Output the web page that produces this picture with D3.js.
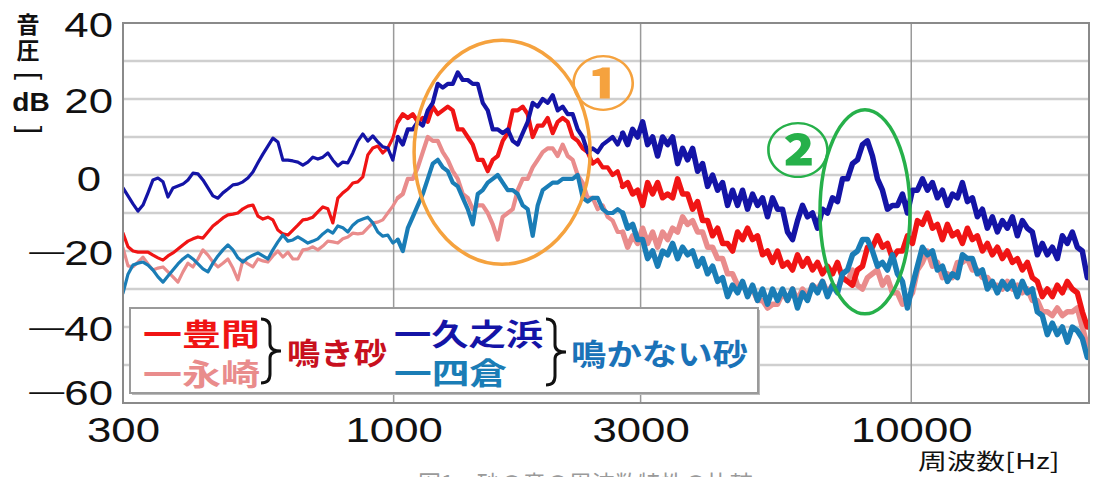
<!DOCTYPE html>
<html>
<head>
<meta charset="utf-8">
<script src="https://cdn.jsdelivr.net/npm/d3@7"></script>
<style>
  body { margin: 0; background: #fff; }
  svg { display: block; }
</style>
</head>
<body>
<svg id="chart" width="1096" height="477"></svg>
<script>
// spectrum bins: log spaced from 300 Hz, one value per bin
const binCount = 194
const binStep = 0.009653 // decades per bin

// 豊間 (red)
const toyoma = [
  -15.3,-18.9,-20.0,-20.3,-20.3,-20.3,-21.1,-21.8,-22.4,-21.3,
  -20.5,-19.5,-18.4,-17.4,-16.8,-16.3,-16.6,-15.0,-13.4,-12.4,
  -11.3,-10.5,-10.3,-10.0,-8.9,-8.2,-7.9,-10.8,-11.6,-11.1,
  -11.8,-14.5,-15.5,-15.8,-14.5,-13.2,-11.8,-11.6,-11.1,-9.7,
  -8.4,-8.9,-12.6,-6.1,-4.7,-3.7,-2.1,-1.8,-0.5,5.3,
  7.1,7.6,5.8,7.1,9.7,
  14,16,15,16,14,15,14,18,16,17,
  18,17,12,12,10,8,4,4,1,4,
  5,9,11,17,17,18,16,10,13,13,
  15,11,14,15,14,10,9,7,6,3,
  4,2,2,0,1,
  -3,-2,-5,-4,-8,-2,-5,-2,-6,-5,
  -6,-1,-5,-5,-9,-7,-12,-12,-16,-14,
  -18,-18,-20,-15,-17,-14,-17,-16,-21,-20,
  -23,-20,-24,-23,-25,-21,-24,-22,-25,-23,
  -26,-24,-26,-23,-27,-28,-29,-25,-24,-19,
  -19,-16,-19,-18,-22,-20,-20,-16,-18,-12,
  -13,-10,-14,-13,-17,-13,-16,-15,-18,-14,
  -17,-16,-20,-18,-21,-19,-22,-20,-23,-22,
  -25,-23,-27,-28,-32,-30,-32,-29,-31,-28,
  -30,-31,-36,-40
]

// 永崎 (pink)
const nagasaki = [
  -19.2,-23.9,-24.2,-22.9,-21.6,-23.4,-25.0,-24.5,-24.2,-25.5,
  -26.8,-28.2,-25.5,-23.2,-24.2,-22.1,-19.7,-21.1,-22.9,-24.2,
  -23.2,-22.1,-24.5,-27.6,-22.4,-23.4,-24.2,-22.1,-22.6,-22.9,
  -21.3,-20.0,-21.6,-20.3,-22.1,-22.1,-19.7,-19.5,-18.9,-19.7,
  -18.7,-17.4,-17.6,-17.9,-16.8,-16.3,-15.3,-15.5,-15.3,-13.9,
  -12.6,-12.4,-11.8,-10.0,-8.2,
  -6,-5,-1,-1,2,6,10,9,9,6,
  4,1,-1,-5,-6,-9,-8,-8,-10,-13,
  -17,-11,-10,-9,-4,-1,-1,2,4,6,
  7,7,5,8,5,4,0,-2,-6,-6,
  -9,-8,-11,-12,-15,
  -15,-19,-16,-18,-14,-18,-15,-19,-15,-17,
  -14,-15,-11,-13,-12,-15,-15,-19,-19,-22,
  -22,-26,-26,-29,-29,-31,-30,-33,-33,-35,
  -34,-34,-31,-33,-30,-33,-30,-32,-29,-30,
  -28,-31,-29,-30,-27,-28,-25,-29,-30,-27,
  -26,-25,-29,-27,-31,-31,-34,-33,-31,-25,
  -23,-20,-24,-23,-27,-26,-27,-23,-23,-22,
  -25,-25,-27,-27,-29,-29,-30,-28,-30,-29,
  -31,-30,-33,-33,-36,-36,-37,-35,-37,-36,
  -36,-35,-40,-45
]

// 久之浜 (dark blue)
const kunohama = [
  -3.4,-5.5,-7.6,-9.5,-7.9,-4.7,-1.3,-0.8,-1.8,-5.8,
  -3.4,-2.9,-2.4,-1.3,0.5,0.3,-1.3,-3.4,-5.5,-6.1,
  -4.7,-3.7,-2.6,-2.4,-1.8,-0.8,0.8,3.2,5.5,7.6,
  9.7,8.7,3.9,3.9,3.7,3.4,2.6,3.4,4.7,4.2,
  4.7,5.8,3.9,2.4,3.4,3.2,5.8,8.9,10.8,8.9,
  10.3,8.7,7.4,7.1,3.9,
  10,8,12,12,14,13,17,19,24,23,
  24,24,27,25,25,24,24,19,17,12,
  12,11,12,9,8,11,14,19,18,20,
  19,21,17,18,16,16,12,10,6,7,
  6,8,9,10,8,
  11,8,12,10,14,8,10,5,10,8,
  10,3,7,4,7,1,3,-3,0,-4,
  -2,-8,-4,-8,-4,-9,-5,-8,-6,-11,
  -6,-9,-9,-15,-17,-12,-8,-11,-10,-14,
  -9,-10,-6,-7,-1,-1,3,4,8,9,
  5,-1,-4,-9,-8,-8,-5,-10,-4,-4,
  -1,-4,-2,-6,-4,-8,-5,-6,-2,-7,
  -6,-11,-9,-14,-11,-15,-12,-14,-11,-16,
  -12,-14,-15,-21,-18,-21,-19,-22,-16,-18,
  -15,-19,-20,-27
]

// 四倉 (teal)
const yotsukura = [
  -31.1,-26.1,-23.7,-23.2,-22.9,-23.7,-25.0,-26.8,-28.2,-26.6,
  -25.0,-23.4,-22.1,-21.1,-22.1,-23.4,-24.7,-25.5,-23.2,-21.3,
  -19.7,-18.4,-19.7,-21.8,-22.9,-21.8,-21.1,-20.5,-21.3,-22.1,
  -19.7,-17.6,-15.8,-17.4,-17.1,-16.3,-17.1,-17.9,-17.4,-16.8,
  -15.5,-14.5,-15.3,-13.4,-13.9,-15.0,-13.2,-12.1,-11.6,-11.1,
  -12.6,-15.0,-16.1,-15.8,-17.9,
  -17,-20,-14,-11,-8,-5,-1,3,4,2,
  1,-2,-3,-6,-9,-13,-5,-4,-2,-1,
  0,-2,-4,-4,-5,-8,-9,-16,-8,-4,
  -3,-2,-2,-1,-1,-1,0,-6,-7,-6,
  -6,-9,-10,-10,-9,
  -10,-14,-13,-17,-17,-22,-20,-24,-20,-21,
  -18,-22,-19,-21,-20,-24,-22,-26,-24,-28,
  -27,-32,-29,-31,-28,-32,-29,-33,-30,-34,
  -30,-33,-30,-33,-30,-35,-31,-33,-29,-31,
  -28,-32,-29,-31,-26,-25,-21,-20,-17,-17,
  -20,-24,-23,-25,-21,-26,-28,-35,-29,-24,
  -19,-21,-20,-25,-24,-28,-26,-27,-21,-22,
  -22,-26,-25,-30,-28,-31,-28,-30,-28,-32,
  -28,-31,-30,-36,-37,-42,-39,-42,-40,-44,
  -40,-41,-43,-48
]

const xTicks = [300, 1000, 3000, 10000]
const yTicks = [40, 20, 0, -20, -40, -60]
const vGrid = [1000, 3000, 10000]

const W = 1096, H = 477
const margin = { top: 23, right: 7, bottom: 74, left: 123 }
const svg = d3.select('#chart')

const x = d3.scaleLog().domain([300, 22050]).range([margin.left, W - margin.right])
const y = d3.scaleLinear().domain([-60, 40]).range([H - margin.bottom, margin.top])
const freqs = d3.range(binCount).map(i => 300 * Math.pow(10, i * binStep))

const num = '"Liberation Sans", Arial, sans-serif'
const jp = '"Noto Sans CJK JP", "Noto Sans", sans-serif'

svg.append('defs').append('clipPath').attr('id', 'plotclip')
	.append('rect')
	.attr('x', margin.left).attr('y', margin.top)
	.attr('width', W - margin.left - margin.right)
	.attr('height', H - margin.top - margin.bottom)

// grid
svg.append('g').selectAll('line').data(d3.range(-50, 40, 10)).join('line')
	.attr('x1', margin.left).attr('x2', W - margin.right)
	.attr('y1', d => y(d)).attr('y2', d => y(d))
	.attr('stroke', '#cfcfcf').attr('stroke-width', 2.5)

svg.append('g').selectAll('line').data(vGrid).join('line')
	.attr('x1', d => x(d)).attr('x2', d => x(d))
	.attr('y1', margin.top).attr('y2', H - margin.bottom)
	.attr('stroke', '#9a9a9a').attr('stroke-width', 1.5)

// spectra: the noisier upper bands are drawn with a heavier pen
const series = [
	{ values: nagasaki, color: '#e98c8c' },
	{ values: toyoma, color: '#f01414' },
	{ values: yotsukura, color: '#1a7db6' },
	{ values: kunohama, color: '#1414a6' }
]
const pens = [
	{ from: 0, to: 56, width: 3.2 },
	{ from: 55, to: 101, width: 4.2 },
	{ from: 100, to: binCount, width: 5.5 }
]
const line = d3.line().x(d => x(d.f)).y(d => y(d.v))
const lines = svg.append('g').attr('clip-path', 'url(#plotclip)')
series.forEach(s => {
	const pts = s.values.map((v, i) => ({ f: freqs[i], v }))
	pens.forEach(p => {
		lines.append('path').datum(pts.slice(p.from, p.to))
			.attr('d', line)
			.attr('fill', 'none')
			.attr('stroke', s.color)
			.attr('stroke-width', p.width)
			.attr('stroke-linejoin', 'round')
			.attr('stroke-linecap', 'round')
	})
})

// frame
svg.append('rect')
	.attr('x', margin.left).attr('y', margin.top)
	.attr('width', W - margin.left - margin.right)
	.attr('height', H - margin.top - margin.bottom)
	.attr('fill', 'none').attr('stroke', '#8a8a8a').attr('stroke-width', 2)

// x axis
const xAxis = svg.append('g')
	.attr('transform', `translate(0, ${H - margin.bottom})`)
	.call(d3.axisBottom(x).tickValues(xTicks).tickSize(0).tickFormat(d => String(d)))
xAxis.select('.domain').remove()
xAxis.selectAll('text')
	.attr('y', 14).attr('dy', '0.71em')
	.attr('transform', 'scale(1.25,1)')
	.style('font-family', num).style('font-size', '35px').style('fill', '#111')

// y axis labels
yTicks.forEach(t => {
	const nudgeY = t === -60 ? -11 : (t === 0 ? 3 : 1)
	const nudgeX = t === 0 ? -12 : 0
	const txt = svg.append('text')
		.attr('transform', `translate(${113 + nudgeX}, ${y(t) + nudgeY + 12.5}) scale(1.25,1)`)
		.attr('text-anchor', 'end')
		.style('font-family', num).style('font-size', '35px').style('fill', '#111')
	if (t < 0) {
		txt.append('tspan').attr('dy', -5).style('font-size', '28px').text('—')
		txt.append('tspan').attr('dy', 5).text(String(-t))
	} else {
		txt.text(String(t))
	}
})

// y title (vertical)
const yt = svg.append('g').style('fill', '#111')
yt.append('text').attr('x', 28).attr('y', 33).attr('text-anchor', 'middle')
	.style('font-family', jp).style('font-size', '23px').style('font-weight', 700).text('音')
yt.append('text').attr('x', 28).attr('y', 59).attr('text-anchor', 'middle')
	.style('font-family', jp).style('font-size', '23px').style('font-weight', 700).text('圧')
yt.append('text').attr('transform', 'translate(30, 76) rotate(90)')
	.attr('text-anchor', 'middle').attr('dominant-baseline', 'central')
	.style('font-family', num).style('font-size', '30px').text('[')
yt.append('text').attr('transform', 'translate(31, 111) scale(1.08,1)').attr('text-anchor', 'middle')
	.style('font-family', num).style('font-size', '26px').style('font-weight', 700).text('dB')
yt.append('text').attr('transform', 'translate(30, 130) rotate(90)')
	.attr('text-anchor', 'middle').attr('dominant-baseline', 'central')
	.style('font-family', num).style('font-size', '30px').text(']')

// x title
svg.append('text').attr('transform', 'translate(918, 469) scale(1.32,1)')
	.style('font-family', jp).style('font-size', '22px').style('fill', '#111').text('周波数[Hz]')

// caption, cut by the bottom edge as in the source
svg.append('text').attr('x', 418).attr('y', 492)
	.style('font-family', jp).style('font-size', '23px').style('fill', '#9a9a9a')
	.text('図1　砂の音の周波数特性の比較')

// legend
const lg = svg.append('g')
lg.append('rect').attr('x', 132).attr('y', 310).attr('width', 628).attr('height', 85).attr('fill', '#bbb')
lg.append('rect').attr('x', 130).attr('y', 308).attr('width', 628).attr('height', 85)
	.attr('fill', '#fff').attr('stroke', '#9a9a9a').attr('stroke-width', 2)

const legendItems = [
	{ text: '一豊間', x: 143, y: 345, len: 117, color: '#f01414' },
	{ text: '一永崎', x: 143, y: 385, len: 117, color: '#e98c8c' },
	{ text: '鳴き砂', x: 287, y: 364, len: 100, color: '#c8101e' },
	{ text: '一久之浜', x: 394, y: 345, len: 149, color: '#1414a6' },
	{ text: '一四倉', x: 394, y: 384, len: 113, color: '#1a7db6' },
	{ text: '鳴かない砂', x: 571, y: 365, len: 177, color: '#1a72b8' }
]
legendItems.forEach(d => {
	lg.append('text').attr('x', d.x).attr('y', d.y)
		.attr('textLength', d.len).attr('lengthAdjust', 'spacingAndGlyphs')
		.style('font-family', jp).style('font-size', '30px').style('font-weight', 700)
		.style('fill', d.color).text(d.text)
})

const brace = (x0, top, bottom) => {
	const mid = (top + bottom) / 2, xm = x0 + 9
	return `M${x0},${top} Q${xm},${top} ${xm},${top + 9} L${xm},${mid - 7} Q${xm},${mid} ${x0 + 20},${mid}` +
		` Q${xm},${mid} ${xm},${mid + 7} L${xm},${bottom - 9} Q${xm},${bottom} ${x0},${bottom}`
}
lg.append('path').attr('d', brace(261, 319, 383)).attr('fill', 'none').attr('stroke', '#111').attr('stroke-width', 3)
lg.append('path').attr('d', brace(546, 319, 385)).attr('fill', 'none').attr('stroke', '#111').attr('stroke-width', 3)

// annotations
const notes = [
	{ f: 1620, db: 6, rx: 88, ry: 112, color: '#f5a23e', mark: '①', mf: 2540, mdb: 25 },
	{ f: 8140, db: -9.7, rx: 45, ry: 102, color: '#26b04a', mark: '②', mf: 6040, mdb: 7.4 }
]
notes.forEach(n => {
	svg.append('ellipse')
		.attr('cx', x(n.f)).attr('cy', y(n.db)).attr('rx', n.rx).attr('ry', n.ry)
		.attr('fill', 'none').attr('stroke', n.color).attr('stroke-width', 3.5)
	svg.append('text')
		.attr('transform', `translate(${x(n.mf)}, ${y(n.mdb)}) scale(1.12,1)`)
		.attr('text-anchor', 'middle').attr('dominant-baseline', 'central')
		.style('font-family', jp).style('font-size', '58px').style('font-weight', 900)
		.style('fill', n.color).text(n.mark)
})
</script>
</body>
</html>
